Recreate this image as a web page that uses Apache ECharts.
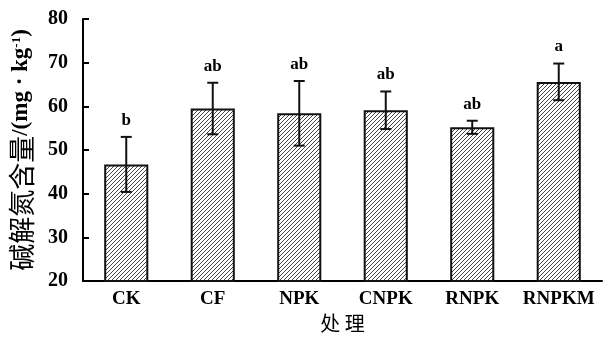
<!DOCTYPE html>
<html><head><meta charset="utf-8">
<script src="https://cdn.jsdelivr.net/npm/echarts@6/dist/echarts.min.js"></script>
<style>html,body{margin:0;padding:0;background:#fff}#c{width:616px;height:337px}</style>
</head><body><div id="c"></div>
<script>
const categories = ['CK','CF','NPK','CNPK','RNPK','RNPKM'];
const means = [46.7, 59.5, 58.4, 59.1, 55.2, 65.6];
const errors = [6.3, 5.9, 7.4, 4.3, 1.5, 4.2];
const letters = ['b','ab','ab','ab','ab','a'];
const yTicks = [20, 30, 40, 50, 60, 70, 80];

function hatch(){
  const s = 4, c = document.createElement('canvas');
  c.width = s; c.height = s;
  const g = c.getContext('2d');
  g.fillStyle = '#fff'; g.fillRect(0,0,s,s);
  g.strokeStyle = '#444'; g.lineWidth = 1;
  g.beginPath();
  g.moveTo(-1, s+1); g.lineTo(s+1, -1);
  g.moveTo(-1, 1); g.lineTo(1, -1);
  g.moveTo(s-1, s+1); g.lineTo(s+1, s-1);
  g.stroke();
  return c;
}

const chart = echarts.init(document.getElementById('c'));
const serif = 'Liberation Serif';
chart.setOption({
  animation: false,
  grid: {left: 83, right: 14, top: 19, bottom: 56, outerBoundsMode: 'none', containLabel: false},
  xAxis: {
    type: 'category', data: categories,
    name: '处 理', nameLocation: 'middle', nameGap: 29,
    nameTextStyle: {fontFamily: 'Noto Sans CJK SC', fontSize: 20, color: '#000'},
    axisLine: {lineStyle: {color: '#000', width: 2}},
    axisTick: {inside: true, length: 6, lineStyle: {color: '#000', width: 2}},
    axisLabel: {interval: 0, fontFamily: serif, fontWeight: 'bold', fontSize: 19, color: '#000', margin: 9}
  },
  yAxis: {
    type: 'value', min: yTicks[0], max: yTicks[yTicks.length-1], interval: 10,
    name: '{c|碱解氮含量}{l|/(mg · kg}{s|-1}{l|)}',
    nameLocation: 'middle', nameGap: 48,
    nameTextStyle: {
      rich: {
        c: {fontFamily: 'Noto Sans CJK SC', fontSize: 27, color: '#000'},
        l: {fontFamily: serif, fontWeight: 'bold', fontSize: 23, color: '#000'},
        s: {fontFamily: serif, fontWeight: 'bold', fontSize: 13, color: '#000', padding: [0,0,10,0]}
      }
    },
    axisLine: {show: true, lineStyle: {color: '#000', width: 2}},
    axisTick: {show: true, inside: true, length: 6, lineStyle: {color: '#000', width: 2}},
    splitLine: {show: false},
    axisLabel: {fontFamily: serif, fontWeight: 'bold', fontSize: 20, color: '#000', margin: 15}
  },
  series: [{
    type: 'bar', data: means, barWidth: '51%',
    itemStyle: {color: {image: hatch(), repeat: 'repeat'}, borderColor: '#111', borderWidth: 2}
  }, {
    type: 'custom',
    data: means.map((m, i) => [i, m - errors[i], m + errors[i]]),
    renderItem: function(params, api){
      const i = api.value(0);
      const lo = api.coord([i, api.value(1)]);
      const hi = api.coord([i, api.value(2)]);
      const x = lo[0], hw = 5.5;
      const st = {stroke: '#111', lineWidth: 2};
      return {type: 'group', children: [
        {type: 'line', shape: {x1: x, y1: lo[1], x2: x, y2: hi[1]}, style: st},
        {type: 'line', shape: {x1: x-hw, y1: lo[1], x2: x+hw, y2: lo[1]}, style: st},
        {type: 'line', shape: {x1: x-hw, y1: hi[1], x2: x+hw, y2: hi[1]}, style: st},
        {type: 'text', x: x, y: hi[1] - 8, style: {text: letters[i], fill: '#000',
          font: 'bold 17px "Liberation Serif"', textAlign: 'center', textVerticalAlign: 'bottom'}}
      ]};
    },
    z: 5
  }]
});
</script></body></html>
